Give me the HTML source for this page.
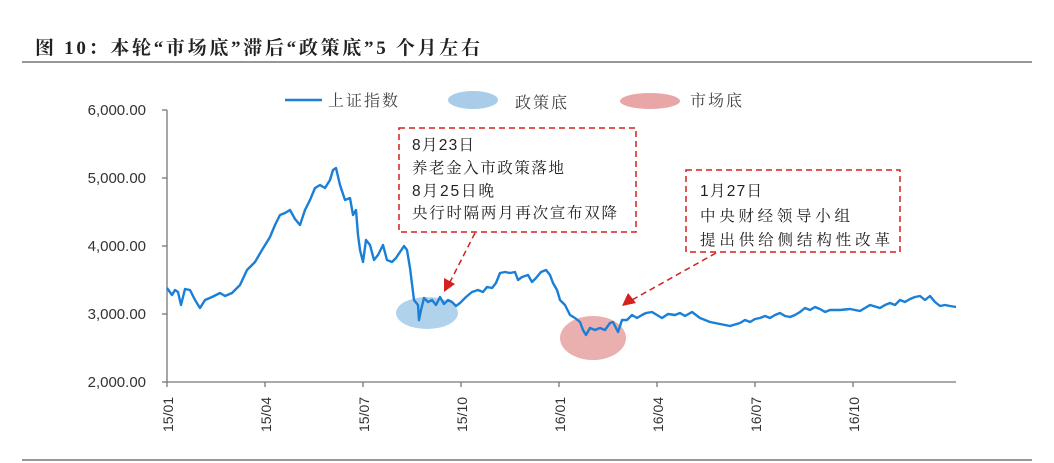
<!DOCTYPE html>
<html><head><meta charset="utf-8"><style>
body{margin:0;background:#fff;width:1054px;height:463px;overflow:hidden}
svg{display:block}
</style></head><body>
<svg width="1054" height="463" xmlns="http://www.w3.org/2000/svg">
<text x="35" y="54" textLength="445" lengthAdjust="spacing" font-family="'Liberation Serif','Noto Serif CJK SC',serif" font-weight="bold" font-size="19" fill="#222">图 10：本轮“市场底”滞后“政策底”5 个月左右</text>
<line x1="22" y1="62" x2="1032" y2="62" stroke="#777" stroke-width="1.5"/>
<line x1="22" y1="460" x2="1032" y2="460" stroke="#777" stroke-width="1.5"/>
<g font-family="'Liberation Sans',sans-serif" font-size="15" fill="#333" text-anchor="end">
<text x="146" y="115">6,000.00</text><text x="146" y="183">5,000.00</text><text x="146" y="251">4,000.00</text><text x="146" y="319">3,000.00</text><text x="146" y="387">2,000.00</text>
</g>
<g stroke="#777" stroke-width="1.3" fill="none">
<line x1="167" y1="110" x2="167" y2="382"/><line x1="167" y1="382" x2="956" y2="382"/>
<line x1="162" y1="110" x2="167" y2="110"/><line x1="162" y1="178" x2="167" y2="178"/><line x1="162" y1="246" x2="167" y2="246"/><line x1="162" y1="314" x2="167" y2="314"/><line x1="162" y1="382" x2="167" y2="382"/>
<line x1="167" y1="382" x2="167" y2="387"/><line x1="265" y1="382" x2="265" y2="387"/><line x1="363" y1="382" x2="363" y2="387"/><line x1="461" y1="382" x2="461" y2="387"/><line x1="559" y1="382" x2="559" y2="387"/><line x1="657" y1="382" x2="657" y2="387"/><line x1="755" y1="382" x2="755" y2="387"/><line x1="853" y1="382" x2="853" y2="387"/>
</g>
<g font-family="'Liberation Sans',sans-serif" font-size="14" fill="#333">
<text transform="translate(173,432) rotate(-90)">15/01</text>
<text transform="translate(271,432) rotate(-90)">15/04</text>
<text transform="translate(369,432) rotate(-90)">15/07</text>
<text transform="translate(467,432) rotate(-90)">15/10</text>
<text transform="translate(565,432) rotate(-90)">16/01</text>
<text transform="translate(663,432) rotate(-90)">16/04</text>
<text transform="translate(761,432) rotate(-90)">16/07</text>
<text transform="translate(859,432) rotate(-90)">16/10</text>
</g>
<ellipse cx="427" cy="313" rx="31" ry="16" fill="#a9cde9" opacity="0.9"/>
<ellipse cx="593" cy="338" rx="33" ry="22" fill="#e8a6a6" opacity="0.9"/>
<polyline fill="none" stroke="#1a7fd6" stroke-width="2.4" stroke-linejoin="round" points="167,288 172,295 175,290 178,292 181,305 185,289 190,290 195,300 200,308 205,300 212,297 220,293 225,296 232,293 240,285 247,270 255,262 262,250 270,237 275,225 280,215 285,213 290,210 295,219 300,225 305,210 310,200 315,188 320,185 325,188 330,180 333,170 336,168 340,185 345,200 350,198 353,215 356,210 358,235 360,250 363,262 366,240 370,245 374,260 378,255 383,245 387,260 392,262 396,258 400,252 404,246 407,250 410,268 414,300 418,305 419,320 421,310 424,298 428,302 432,300 436,305 440,297 444,304 448,300 452,302 456,306 460,303 466,297 472,292 478,290 483,292 487,287 492,288 496,283 500,273 505,272 510,273 515,272 518,280 522,277 528,275 532,282 536,278 541,272 546,270 550,275 553,283 557,290 560,300 565,305 570,315 575,318 580,322 583,330 586,335 590,328 595,330 600,328 605,330 610,323 613,322 618,332 622,320 627,320 632,315 637,318 642,315 646,313 652,312 657,315 662,318 668,314 675,315 680,313 685,316 692,312 700,318 710,322 720,324 730,326 740,323 745,320 750,322 755,319 760,318 765,316 770,318 775,315 780,313 785,316 790,317 795,315 800,312 805,308 810,310 815,307 820,309 825,312 830,310 840,310 850,309 860,311 870,305 880,308 885,305 890,303 895,305 900,300 905,302 910,299 915,297 920,296 925,300 930,296 935,302 940,306 945,305 950,306 956,307"/>
<line x1="285" y1="100" x2="322" y2="100" stroke="#1a7fd6" stroke-width="2.5"/>
<ellipse cx="473" cy="100" rx="25" ry="9" fill="#a9cde9"/>
<ellipse cx="650" cy="101" rx="30" ry="8" fill="#e8a6a6"/>
<g font-family="'Noto Serif CJK SC',serif" font-size="16" fill="#444">
<text x="328" y="106" textLength="70" lengthAdjust="spacing">上证指数</text><text x="515" y="108" textLength="52" lengthAdjust="spacing">政策底</text><text x="690" y="106" textLength="52" lengthAdjust="spacing">市场底</text>
</g>
<g stroke="#d42020" stroke-width="1.5" stroke-dasharray="6,4" fill="none">
<rect x="399" y="128" width="237" height="104"/>
<rect x="686" y="170" width="214" height="82"/>
<line x1="475" y1="233" x2="450" y2="282"/>
<line x1="716" y1="253" x2="632" y2="300"/>
</g>
<polygon points="444,292 444,278 455,284" fill="#d42020"/>
<polygon points="622,306 628,293 636,303" fill="#d42020"/>
<g font-family="'Liberation Sans','Noto Serif CJK SC',serif" font-size="15.5" fill="#222">
<text x="412" y="150" textLength="62" lengthAdjust="spacing">8月23日</text><text x="412" y="173" textLength="152" lengthAdjust="spacing">养老金入市政策落地</text><text x="412" y="196" textLength="82" lengthAdjust="spacing">8月25日晚</text><text x="412" y="218" textLength="205" lengthAdjust="spacing">央行时隔两月再次宣布双降</text>
<text x="700" y="196" textLength="62" lengthAdjust="spacing">1月27日</text><text x="700" y="221" textLength="150" lengthAdjust="spacing">中央财经领导小组</text><text x="700" y="245" textLength="190" lengthAdjust="spacing">提出供给侧结构性改革</text>
</g>
</svg>
</body></html>
